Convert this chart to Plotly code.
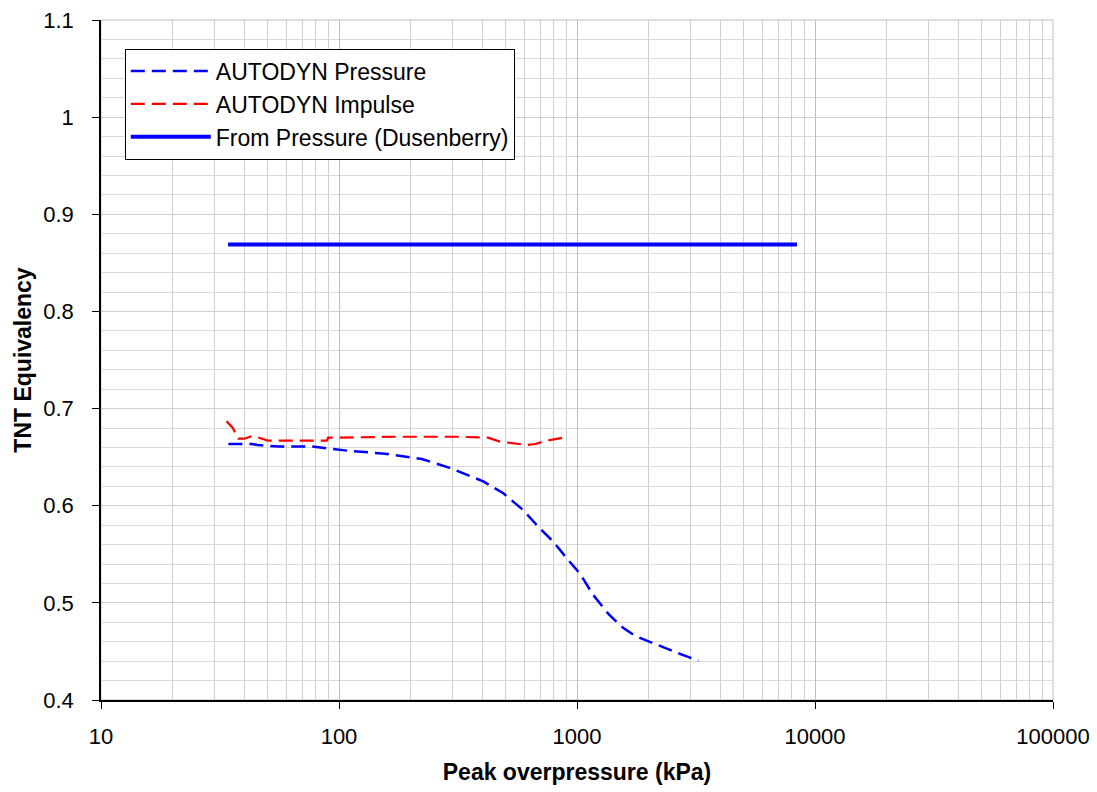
import plotly.graph_objects as go

# Data
pressure_x = [34.3, 43, 45.6, 55.5, 77, 109, 156, 223, 292, 313, 404, 490, 594, 687,
              795, 919, 1030, 1170, 1352, 1445, 1567, 1754, 2162, 2625, 3236]
pressure_y = [0.6635, 0.6635, 0.6625, 0.661, 0.661, 0.6566, 0.6535, 0.648, 0.639, 0.636,
              0.625, 0.6128, 0.5956, 0.5784, 0.563, 0.544, 0.530, 0.508, 0.489, 0.482,
              0.474, 0.466, 0.4566, 0.4487, 0.4404]

impulse_x = [33.7, 35.8, 37.7, 40, 43.5, 50.3, 60, 89, 90, 177, 313, 423, 474, 617,
             667, 748, 925]
impulse_y = [0.687, 0.680, 0.669, 0.669, 0.672, 0.667, 0.667, 0.667, 0.670, 0.671,
             0.671, 0.670, 0.666, 0.6625, 0.6635, 0.667, 0.671]

dusen_x = [34.2, 8400]
dusen_y = [0.869, 0.869]

x_ticks = [10, 100, 1000, 10000, 100000]
x_tick_labels = ["10", "100", "1000", "10000", "100000"]
y_ticks = [0.4, 0.5, 0.6, 0.7, 0.8, 0.9, 1.0, 1.1]
y_tick_labels = ["0.4", "0.5", "0.6", "0.7", "0.8", "0.9", "1", "1.1"]

FONT = "Liberation Sans, Arial, sans-serif"

fig = go.Figure()
fig.add_trace(go.Scatter(x=pressure_x, y=pressure_y, mode="lines",
                         name="AUTODYN Pressure",
                         line=dict(color="#0000FF", width=2.5, dash="14px,7px")))
fig.add_trace(go.Scatter(x=impulse_x, y=impulse_y, mode="lines",
                         name="AUTODYN Impulse",
                         line=dict(color="#FF0000", width=2.2, dash="14px,7px")))
fig.add_trace(go.Scatter(x=dusen_x, y=dusen_y, mode="lines",
                         name="From Pressure (Dusenberry)",
                         line=dict(color="#0000FF", width=4)))

fig.update_layout(
    width=1097, height=792,
    margin=dict(l=101, r=44, t=20, b=92),
    paper_bgcolor="white", plot_bgcolor="white",
    font=dict(family=FONT, size=22, color="black"),
    showlegend=True,
    legend=dict(x=0.025, y=0.958, xanchor="left", yanchor="top",
                bgcolor="white", bordercolor="black", borderwidth=1,
                font=dict(family=FONT, size=23, color="black"),
                itemwidth=80, tracegroupgap=0),
    xaxis=dict(
        type="log", range=[1, 5], automargin=False,
        tickmode="array", tickvals=x_ticks, ticktext=x_tick_labels,
        ticks="outside", ticklen=7, tickcolor="black", tickwidth=1,
        showline=True, linecolor="black", linewidth=1.5,
        showgrid=True, gridcolor="#bdbdbd", gridwidth=1,
        minor=dict(dtick="D1", showgrid=True, gridcolor="#cfcfcf", gridwidth=1, ticks=""),
        ticklabelstandoff=9,
        zeroline=False,
        title=dict(text="<b>Peak overpressure (kPa)</b>", font=dict(family=FONT, size=23),
                   standoff=16),
    ),
    yaxis=dict(
        range=[0.4, 1.1], automargin=False,
        tickmode="array", tickvals=y_ticks, ticktext=y_tick_labels,
        ticks="outside", ticklen=7, tickcolor="black", tickwidth=1,
        showline=True, linecolor="black", linewidth=1.5,
        showgrid=True, gridcolor="#cfcfcf", gridwidth=1,
        minor=dict(dtick=0.02, showgrid=True, gridcolor="#d9d9d9", gridwidth=1, ticks=""),
        ticklabelstandoff=14,
        zeroline=False,
        title=dict(text="<b>TNT Equivalency</b>", font=dict(family=FONT, size=23),
                   standoff=5),
    ),
)

# plot area border on top/right (gray)
fig.add_shape(type="rect", xref="paper", yref="paper", x0=0, y0=0, x1=1, y1=1,
              line=dict(color="#bdbdbd", width=1), layer="below")

fig.write_html("out.html")
